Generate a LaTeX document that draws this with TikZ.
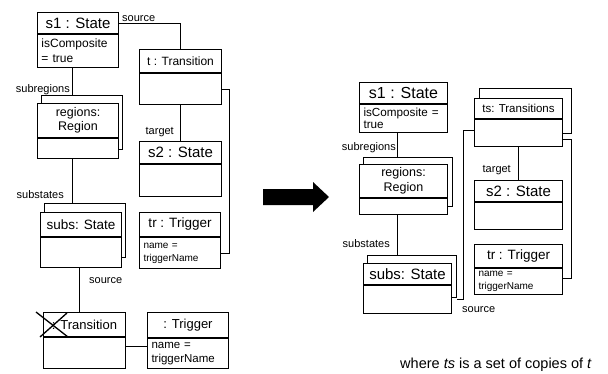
\documentclass[tikz,border=0pt]{standalone}
\usepackage{fontspec}
\setmainfont{Liberation Sans}
\usetikzlibrary{calc}

\newcommand\fsz[2]{\fontsize{#1}{#2}\selectfont}

\tikzset{
    objhead/.style={draw, fill=white, anchor=north west, inner sep=0pt, align=center, line width=1pt},
    objbody/.style={draw, fill=white, anchor=north west, inner xsep=4pt, inner ysep=0pt, align=left, line width=1pt},
    stackbox/.style={draw, fill=white, anchor=north west, inner sep=0pt, line width=1pt},
    rolelabel/.style={inner sep=0pt, font=\fsz{11}{13}},
    link/.style={line width=0.8pt}
}

\begin{document}
\begin{tikzpicture}[x=1pt,y=-1pt]
    \useasboundingbox (0,0) rectangle (608,373);

    % Linke Seite: Zustand s1 und Transition t
    \node[objhead, minimum width=81, minimum height=21, font=\fsz{15}{17}] (s1) at (37,12) {s1 : State};
    \node[objbody, text width=73, minimum height=33, font=\fsz{12}{15}] (s1b) at (s1.south west) {isComposite\\= true};

    \node[objhead, minimum width=82, minimum height=23, font=\fsz{12}{14}] (t) at (139,49) {t : Transition};
    \node[objbody, text width=74, minimum height=31] (tb) at (t.south west) {};

    % Regionen (mehrfach)
    \node[stackbox, minimum width=81, minimum height=54] (regsh) at (40.5,95) {};
    \node[objhead, minimum width=81, minimum height=34, font=\fsz{12.5}{14.5}] (reg) at (37,103) {regions:\\Region};
    \node[objbody, text width=73, minimum height=20] (regb) at (reg.south west) {};

    % Zielzustand s2
    \node[objhead, minimum width=82, minimum height=22, font=\fsz{15}{17}] (s2) at (139,141) {s2 : State};
    \node[objbody, text width=74, minimum height=32] (s2b) at (s2.south west) {};

    % Unterzustaende (mehrfach)
    \node[stackbox, minimum width=81, minimum height=54] (subssh) at (44,203) {};
    \node[objhead, minimum width=81, minimum height=24, font=\fsz{13.5}{15.5}] (subs) at (40,212) {subs: State};
    \node[objbody, text width=73, minimum height=30] (subsb) at (subs.south west) {};

    % Trigger tr
    \node[objhead, minimum width=81, minimum height=24, font=\fsz{13.5}{15.5}] (tr) at (139,212) {tr : Trigger};
    \node[objbody, text width=73, minimum height=31, font=\fsz{10}{13}] (trb) at (tr.south west) {name =\\triggerName};

    % gestrichene Transition mit Trigger
    \node[objhead, minimum width=82, minimum height=24, font=\fsz{13}{15}] (tx) at (43,312) {: Transition};
    \node[objbody, text width=74, minimum height=31] (txb) at (tx.south west) {};
    \draw[line width=1.3pt] (36,312) -- (68,337);
    \draw[line width=1.3pt] (40,337) -- (67,313);

    \node[objhead, minimum width=81, minimum height=25, font=\fsz{13}{15}] (trig) at (147,312) {: Trigger};
    \node[objbody, text width=73, minimum height=30, font=\fsz{11.5}{13.5}] (trigb) at (trig.south west) {name =\\triggerName};

    % Verbindungen links
    \draw[link] (s1.east) -| (t.north);
    \draw[link] ([xshift=-5.5]s1b.south) -- ([xshift=-5.5]s1b.south |- regsh.north);
    \draw[link] ([xshift=-5.5]regb.south) -- ([xshift=-5.5]regb.south |- subssh.north);
    \draw[link] (tb.south) -- (s2.north);
    \draw[link] (tb.east) -- ++(7,0) |- (trb.east);
    \draw[link] ([xshift=-1.5]subsb.south) -- ([xshift=-1.5]subsb.south |- tx.north);
    \draw[link] ([yshift=7]txb.east) -- ([yshift=7]txb.east -| trigb.west);

    \node[rolelabel, anchor=base west] (ls1) at (122,21.5) {source};
    \node[rolelabel, anchor=base east] (ls2) at (70,92) {subregions};
    \node[rolelabel, anchor=base east] (ls3) at (64,198) {substates};
    \node[rolelabel, anchor=base east] (ls4) at (174,134) {target};
    \node[rolelabel, anchor=base west] (ls5) at (89,283) {source};

    % Pfeil
    \fill (263,189) -- (313,189) -- (313,182) -- (329,197) -- (313,212) -- (313,205) -- (263,205) -- cycle;

    % Rechte Seite
    \node[objhead, minimum width=88, minimum height=21, font=\fsz{16}{18}] (S1) at (359,82) {s1 : State};
    \node[objbody, text width=80, minimum height=28, font=\fsz{11.7}{12.5}] (S1b) at (S1.south west) {isComposite =\\true};

    \node[stackbox, minimum width=89, minimum height=49] (Regsh) at (363,157) {};
    \node[objhead, minimum width=88, minimum height=33, font=\fsz{12.5}{14.5}] (Reg) at (359,164) {regions:\\Region};
    \node[objbody, text width=80, minimum height=16] (Regb) at (Reg.south west) {};

    \node[stackbox, minimum width=89, minimum height=42] (Subssh) at (367,255) {};
    \node[objhead, minimum width=88, minimum height=21, font=\fsz{15}{17}] (Subs) at (363,263) {subs: State};
    \node[objbody, text width=80, minimum height=28] (Subsb) at (Subs.south west) {};

    \node[stackbox, minimum width=92, minimum height=45] (Tssh) at (479,88) {};
    \node[objhead, minimum width=88, minimum height=20, font=\fsz{11.5}{13.5}] (Ts) at (474,98) {ts: Transitions};
    \node[objbody, text width=80, minimum height=27] (Tsb) at (Ts.south west) {};

    \node[objhead, minimum width=88, minimum height=21, font=\fsz{15}{17}] (S2) at (474,180) {s2 : State};
    \node[objbody, text width=80, minimum height=27] (S2b) at (S2.south west) {};

    \node[objhead, minimum width=88, minimum height=23, font=\fsz{13.5}{15.5}] (Tr) at (474,244) {tr : Trigger};
    \node[objbody, text width=80, minimum height=26, font=\fsz{10}{12.5}] (Trb) at (Tr.south west) {name =\\triggerName};

    % Verbindungen rechts
    \draw[link] ([xshift=-6]S1b.south) -- ([xshift=-6]S1b.south |- Regsh.north);
    \draw[link] ([xshift=-6]Regb.south) -- ([xshift=-6]Regb.south |- Subssh.north);
    \draw[link] (Tsb.south) -- (S2.north);
    \draw[link] ([yshift=3]Tsb.west) -- ++(-11,0) |- ([xshift=5]Subsb.east);
    \draw[link] ([yshift=-6]Tsb.east) -- ++(8,0) |- ([yshift=3]Trb.east);

    \node[rolelabel, anchor=base east] (Ls2) at (396,150) {subregions};
    \node[rolelabel, anchor=base east] (Ls3) at (390,247) {substates};
    \node[rolelabel, anchor=base east] (Ls4) at (511,172) {target};
    \node[rolelabel, anchor=base west] (Ls5) at (462,312) {source};

    % Anmerkung
    \node[anchor=base, inner sep=0pt, font=\fsz{14.5}{17}] (note) at (496,368) {where \textit{ts} is a set of copies of \textit{t}};
\end{tikzpicture}
\end{document}
